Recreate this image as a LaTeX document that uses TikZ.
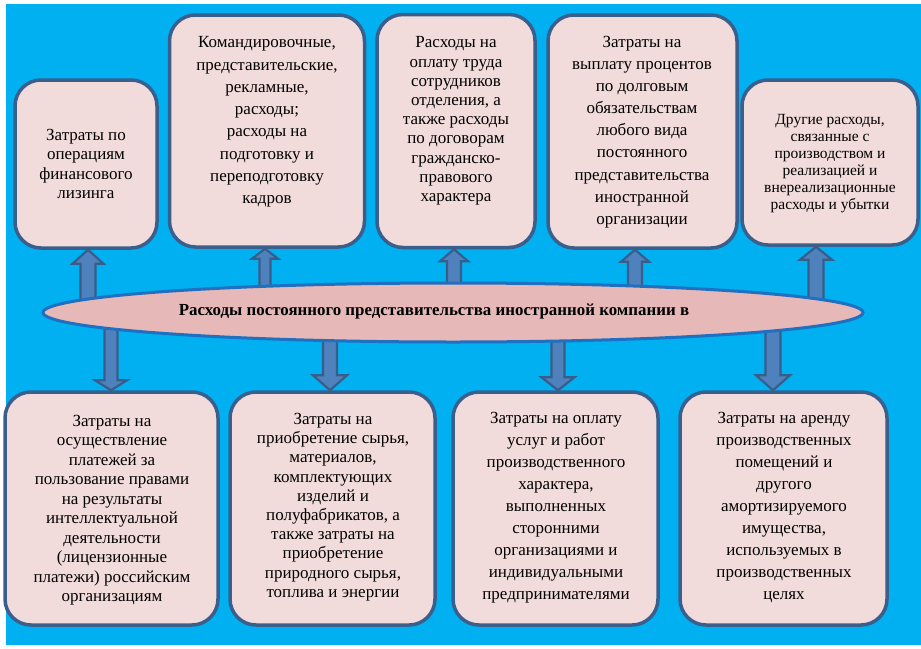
\documentclass[tikz,border=0pt]{standalone}
\usepackage{fontspec}
\setmainfont{Liberation Serif}
\usetikzlibrary{calc,shapes.geometric}
\definecolor{bgblue}{HTML}{00B0F0}
\definecolor{boxfill}{HTML}{F2DCDB}
\definecolor{boxline}{HTML}{3A5F8D}
\definecolor{ellfill}{HTML}{E6B9B8}
\definecolor{ellline}{HTML}{1F70C0}
\definecolor{arrfill}{HTML}{4F81BD}
\definecolor{arrline}{HTML}{385D8A}
\newcommand\blkup[5]{%
  \draw[blockarrow] let \p1=(#1), \p2=(#2) in
    (\x1-#3,\y1) -- (\x1-#3,\y2-#5) -- (\x1-#4,\y2-#5) -- (\x1,\y2)
    -- (\x1+#4,\y2-#5) -- (\x1+#3,\y2-#5) -- (\x1+#3,\y1) -- cycle;}
\newcommand\blkdown[5]{%
  \draw[blockarrow] let \p1=(#1), \p2=(#2) in
    (\x1-#3,\y1) -- (\x1-#3,\y2+#5) -- (\x1-#4,\y2+#5) -- (\x1,\y2)
    -- (\x1+#4,\y2+#5) -- (\x1+#3,\y2+#5) -- (\x1+#3,\y1) -- cycle;}
\begin{document}
\begin{tikzpicture}[x=1pt,y=-1pt,
  box/.style={draw=boxline, line width=3.5pt, fill=boxfill, rounded corners=26pt, inner sep=0pt},
  txt/.style={align=center, inner sep=0pt, text=black},
  blockarrow/.style={draw=arrline, line width=2.2pt, fill=arrfill, line join=miter},
  oval/.style={ellipse, draw=ellline, line width=3pt, fill=ellfill, inner sep=0pt}]
\useasboundingbox (0,0) rectangle (921,648);
\fill[bgblue] (6,4) rectangle (921,645);

% top boxes
\node[box, minimum width=142pt, minimum height=168pt] (b1) at (86,164) {};
\node[box, minimum width=195pt, minimum height=232pt] (b2) at (267,131) {};
\node[box, minimum width=158pt, minimum height=233pt] (b3) at (456,131) {};
\node[box, minimum width=189pt, minimum height=233pt] (b4) at (642.5,131.5) {};
\node[box, minimum width=176pt, minimum height=165pt] (b5) at (830,162.5) {};
% bottom boxes
\node[box, minimum width=213pt, minimum height=233pt] (c1) at (111.5,508.5) {};
\node[box, minimum width=205pt, minimum height=233pt] (c2) at (332.5,508.5) {};
\node[box, minimum width=205pt, minimum height=233pt] (c3) at (555.5,508.5) {};
\node[box, minimum width=207pt, minimum height=233pt] (c4) at (783.5,508.5) {};

% texts
\node[txt, font=\fontsize{17}{19.5}\selectfont] (b1t) at (86,164) {Затраты по\\операциям\\финансового\\лизинга};
\node[txt, font=\fontsize{17}{22.3}\selectfont] (b2t) at (267,122) {Командировочные,\\представительские,\\рекламные,\\расходы;\\расходы на\\подготовку и\\переподготовку\\кадров};
\node[txt, font=\fontsize{17}{19.2}\selectfont] (b3t) at (456,121) {Расходы на\\оплату труда\\сотрудников\\отделения, а\\также расходы\\по договорам\\гражданско-\\правового\\характера};
\node[txt, font=\fontsize{17}{22.1}\selectfont] (b4t) at (642,132) {Затраты на\\выплату процентов\\по долговым\\обязательствам\\любого вида\\постоянного\\представительства\\иностранной\\организации};
\node[txt, font=\fontsize{15.5}{17}\selectfont] (b5t) at (830,164) {Другие расходы,\\связанные с\\производством и\\реализацией и\\внереализационные\\расходы и убытки};
\node[txt, font=\fontsize{17}{19.5}\selectfont] (c1t) at (112,510) {Затраты на\\осуществление\\платежей за\\пользование правами\\на результаты\\интеллектуальной\\деятельности\\(лицензионные\\платежи) российским\\организациям};
\node[txt, font=\fontsize{17}{19.2}\selectfont] (c2t) at (333,507) {Затраты на\\приобретение сырья,\\материалов,\\комплектующих\\изделий и\\полуфабрикатов, а\\также затраты на\\приобретение\\природного сырья,\\топлива и энергии};
\node[txt, font=\fontsize{17}{22}\selectfont] (c3t) at (556,508) {Затраты на оплату\\услуг и работ\\производственного\\характера,\\выполненных\\сторонними\\организациями и\\индивидуальными\\предпринимателями};
\node[txt, font=\fontsize{17}{22}\selectfont] (c4t) at (784,508) {Затраты на аренду\\производственных\\помещений и\\другого\\амортизируемого\\имущества,\\используемых в\\производственных\\целях};

% arrow tails (inside the oval)
\coordinate (u1) at (88,303);
\coordinate (u2) at (265,292);
\coordinate (u3) at (454,292);
\coordinate (u4) at (635,292);
\coordinate (u5) at (816,303);
\coordinate (d1) at (111,322);
\coordinate (d2) at (330,335);
\coordinate (d3) at (558,335);
\coordinate (d4) at (773,325);

\blkup{u1}{b1.south}{7.5pt}{15.5pt}{14pt}
\blkup{u2}{b2.south}{5.5pt}{13pt}{10pt}
\blkup{u3}{b3.south}{7pt}{14pt}{12pt}
\blkup{u4}{b4.south}{7pt}{14pt}{12pt}
\blkup{u5}{b5.south}{7.5pt}{16pt}{13pt}
\blkdown{d1}{c1.north}{6.5pt}{16pt}{10pt}
\blkdown{d2}{c2.north}{7pt}{17pt}{15pt}
\blkdown{d3}{c3.north}{6.5pt}{16.5pt}{13pt}
\blkdown{d4}{c4.north}{7.5pt}{17pt}{15pt}

% central oval
\node[oval, minimum width=820pt, minimum height=59pt] (e) at (453,312.5) {};
\node[txt, font=\fontsize{16.9}{19}\selectfont\bfseries] (et) at (434,311) {Расходы постоянного представительства иностранной компании в};
\end{tikzpicture}
\end{document}
